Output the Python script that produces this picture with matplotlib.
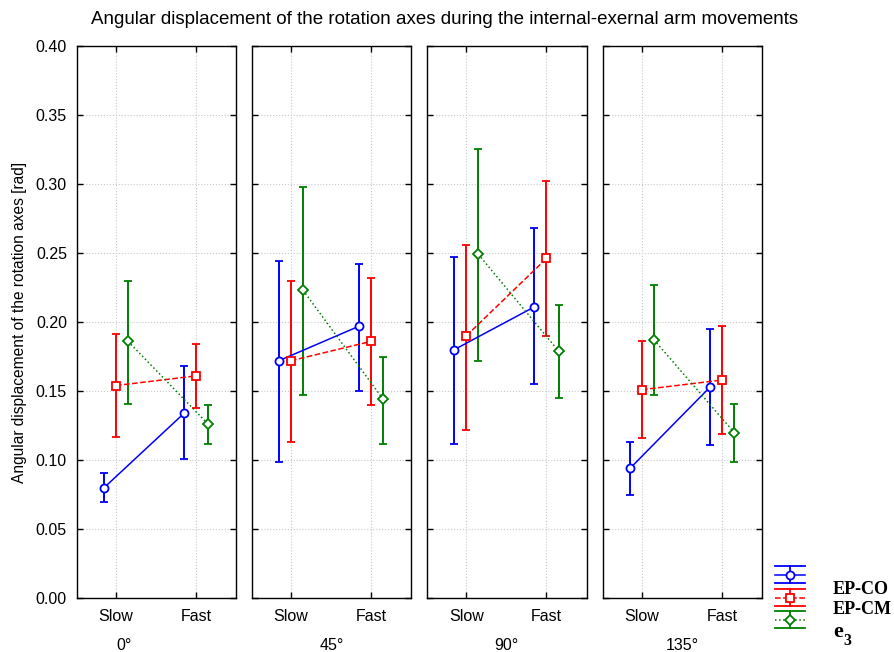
import matplotlib
matplotlib.use("Agg")
import matplotlib.pyplot as plt
import numpy as np

plt.rcParams['font.family'] = ['Liberation Sans', 'DejaVu Sans']

groups = ['0°', '45°', '90°', '135°']
conditions = ['Slow', 'Fast']

# EP-CO  (mean, lower, upper) per group: [slow, fast]
epco_mean = [[0.080, 0.134], [0.172, 0.197], [0.180, 0.211], [0.094, 0.153]]
epco_low = [[0.070, 0.101], [0.099, 0.150], [0.112, 0.155], [0.075, 0.111]]
epco_high = [[0.091, 0.168], [0.244, 0.242], [0.247, 0.268], [0.113, 0.195]]

# EP-CM
epcm_mean = [[0.154, 0.161], [0.172, 0.186], [0.190, 0.246], [0.151, 0.158]]
epcm_low = [[0.117, 0.138], [0.113, 0.140], [0.122, 0.190], [0.116, 0.119]]
epcm_high = [[0.191, 0.184], [0.230, 0.232], [0.256, 0.302], [0.186, 0.197]]

# e3
e3_mean = [[0.186, 0.126], [0.223, 0.144], [0.249, 0.179], [0.187, 0.120]]
e3_low = [[0.141, 0.112], [0.147, 0.112], [0.172, 0.145], [0.147, 0.099]]
e3_high = [[0.230, 0.140], [0.298, 0.175], [0.325, 0.212], [0.227, 0.141]]

series = [
    ('EP-CO', epco_mean, epco_low, epco_high, '#0000ff', '-', 'o', 5.8, -0.15),
    ('EP-CM', epcm_mean, epcm_low, epcm_high, '#ff0000', '--', 's', 5.5, 0.0),
    ('e3', e3_mean, e3_low, e3_high, '#008000', ':', 'D', 4.8, 0.15),
]

W, H = 895, 652
fig = plt.figure(figsize=(W / 100, H / 100), dpi=100)

panel_left = [76.7, 251.7, 427.0, 602.7]
pw = 159.6
top_px, bot_px = 45.7, 598.3

x = np.arange(len(conditions))
for gi, g in enumerate(groups):
    ax = fig.add_axes([panel_left[gi] / W, 1 - bot_px / H, pw / W, (bot_px - top_px) / H])
    for name, mean, low, high, col, ls, mk, ms, off in series:
        m = np.array(mean[gi])
        lo = m - np.array(low[gi])
        hi = np.array(high[gi]) - m
        ax.errorbar(x + off, m, yerr=[lo, hi], color=col, ls=ls, lw=1.1,
                    marker=mk, ms=ms, mfc='white', mec=col, mew=1.3,
                    capsize=3.2, capthick=1.2, elinewidth=1.4, zorder=3)
    ax.set_xlim(-0.49, 1.5)
    ax.set_ylim(0, 0.40)
    ax.set_yticks(np.arange(0, 0.401, 0.05))
    ax.set_xticks(x)
    ax.set_xticklabels(conditions, fontsize=11.5)
    ax.grid(True, color='#c8c8c8', ls=':', lw=0.8)
    ax.set_axisbelow(True)
    ax.tick_params(direction='in', top=True, right=True, length=4, width=1,
                   labelsize=11.5, pad=7)
    ax.tick_params(axis='x', length=4, pad=8)
    if gi == 0:
        ax.set_yticklabels([f'{v:.2f}' for v in np.arange(0, 0.401, 0.05)])
        ax.set_ylabel('Angular displacement of the rotation axes [rad]', fontsize=11.2, labelpad=6)
    else:
        ax.set_yticklabels([])
    for s in ax.spines.values():
        s.set_linewidth(1.0)
    gx = 0.1 if gi == 0 else 0.5
    gy = -(650.5 - bot_px) / (bot_px - top_px)
    ax.text(gx, gy, g, transform=ax.get_xaxis_transform() if gi == 0 else ax.transAxes,
            ha='center', va='baseline', fontsize=11.5)

fig.text(445 / W, 1 - 20 / H,
         'Angular displacement of the rotation axes during the internal-exernal arm movements',
         ha='center', va='center', fontsize=13.5)

# legend drawn manually
lg = fig.add_axes([765 / W, 0, 130 / W, 97 / H])
lg.set_xlim(765, 895)
lg.set_ylim(H, H - 97)
lg.axis('off')
rows = [(566, 574.5, 583, '#0000ff', '-', 'o', 5.8),
        (589, 597.5, 606, '#ff0000', '--', 's', 5.5),
        (611, 619.5, 628, '#008000', ':', 'D', 4.8)]
for ytop, ymid, ybot, col, ls, mk, ms in rows:
    lg.plot([775, 805], [ytop, ytop], color=col, lw=1.3)
    lg.plot([775, 805], [ybot, ybot], color=col, lw=1.3)
    lg.plot([790, 790], [ytop, ybot], color=col, lw=1.3)
    lg.plot([775, 805], [ymid, ymid], color=col, lw=1.1, ls=ls)
    lg.plot([790], [ymid], marker=mk, ms=ms, mfc='white', mec=col, mew=1.3, color=col)
lg.text(833, 589, 'EP-CO', ha='left', va='center', fontsize=13, fontweight='bold',
        family='Liberation Serif')
lg.text(833, 610, 'EP-CM', ha='left', va='center', fontsize=13, fontweight='bold',
        family='Liberation Serif')
lg.text(833, 637, 'e', ha='left', va='baseline', fontsize=16, fontweight='bold',
        family='Liberation Serif')
lg.text(843, 645, '3', ha='left', va='baseline', fontsize=11.5, fontweight='bold',
        family='Liberation Serif')

fig.savefig('out.png', dpi=100)
